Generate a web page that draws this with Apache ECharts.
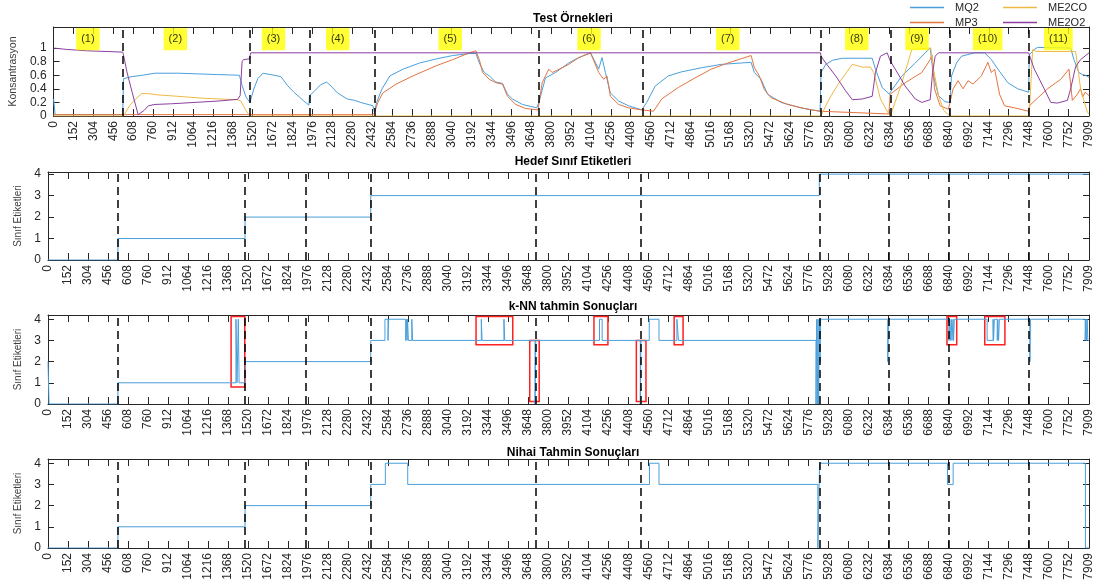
<!DOCTYPE html>
<html><head><meta charset="utf-8">
<script src="https://cdn.jsdelivr.net/npm/echarts@6/dist/echarts.min.js"></script>
<style>html,body{margin:0;padding:0;background:#fff}#c{width:1099px;height:586px}</style>
</head><body><div id="c"></div>
<script>
// ---------- data ----------
const xTicks = [0,152,304,456,608,760,912,1064,1216,1368,1520,1672,1824,1976,2128,2280,2432,2584,2736,2888,3040,3192,3344,3496,3648,3800,3952,4104,4256,4408,4560,4712,4864,5016,5168,5320,5472,5624,5776,5928,6080,6232,6384,6536,6688,6840,6992,7144,7296,7448,7600,7752,7909];
const concTicks = [0,0.2,0.4,0.6,0.8,1];
const classTicks = [0,1,2,3,4];
const segBounds = [531,1497,1955,2450,3703,4500,5860,6391,6846,7451];
const segNames = ['(1)','(2)','(3)','(4)','(5)','(6)','(7)','(8)','(9)','(10)','(11)'];
const segNameX = [262,930,1680,2170,3030,4090,5150,6135,6595,7135,7675];
const segNameY = 1.13;

const MQ2 = [[0,0.25],[12,0.02],[528,0.02],[534,0.55],[600,0.58],[680,0.6],[775,0.63],[950,0.63],[1100,0.62],[1250,0.61],[1419,0.6],[1440,0.45],[1470,0.28],[1500,0.2],[1530,0.4],[1560,0.55],[1600,0.63],[1685,0.6],[1736,0.58],[1786,0.45],[1836,0.35],[1912,0.22],[1950,0.16],[1955,0.3],[1990,0.36],[2040,0.46],[2085,0.5],[2120,0.44],[2168,0.34],[2244,0.25],[2300,0.23],[2345,0.2],[2440,0.15],[2450,0.06],[2468,0.2],[2506,0.39],[2569,0.59],[2670,0.69],[2796,0.78],[2923,0.84],[3049,0.89],[3176,0.92],[3226,0.92],[3252,0.78],[3290,0.64],[3328,0.59],[3378,0.5],[3429,0.48],[3467,0.32],[3505,0.25],[3581,0.17],[3690,0.12],[3700,0.1],[3707,0.2],[3757,0.56],[3834,0.64],[3935,0.78],[3990,0.84],[4050,0.89],[4101,0.93],[4164,0.69],[4189,0.86],[4215,0.64],[4253,0.34],[4316,0.22],[4392,0.15],[4493,0.09],[4531,0.2],[4595,0.44],[4696,0.59],[4797,0.65],[4949,0.71],[5100,0.76],[5252,0.78],[5328,0.79],[5353,0.64],[5404,0.54],[5454,0.32],[5556,0.2],[5708,0.12],[5855,0.07],[5862,0.64],[5898,0.76],[5949,0.82],[6025,0.85],[6253,0.85],[6278,0.69],[6329,0.42],[6385,0.32],[6391,0.35],[6480,0.59],[6582,0.78],[6658,0.93],[6696,1.0],[6721,0.59],[6759,0.3],[6810,0.21],[6846,0.2],[6859,0.59],[6897,0.78],[6935,0.88],[7036,0.93],[7112,0.93],[7163,0.83],[7213,0.69],[7289,0.49],[7365,0.4],[7448,0.35],[7453,0.9],[7491,0.98],[7516,1.01],[7769,1.0],[7794,0.83],[7832,0.64],[7858,0.61],[7880,0.6],[7909,0.57]];
const MP3 = [[0,0.02],[2440,0.02],[2452,0.05],[2477,0.2],[2515,0.34],[2617,0.47],[2745,0.59],[2923,0.74],[3049,0.83],[3176,0.93],[3226,0.96],[3252,0.83],[3277,0.64],[3328,0.54],[3378,0.49],[3429,0.47],[3467,0.29],[3530,0.17],[3606,0.11],[3700,0.09],[3732,0.49],[3783,0.69],[3808,0.64],[3886,0.71],[3935,0.76],[4012,0.86],[4101,0.93],[4164,0.64],[4202,0.54],[4227,0.59],[4253,0.29],[4316,0.17],[4392,0.12],[4493,0.09],[4506,0.07],[4582,0.07],[4645,0.25],[4772,0.42],[4899,0.56],[5025,0.69],[5151,0.78],[5328,0.89],[5353,0.71],[5391,0.59],[5404,0.61],[5429,0.39],[5480,0.27],[5606,0.17],[5758,0.1],[5855,0.07],[5862,0.05],[6380,0.03],[6391,0.32],[6505,0.49],[6632,0.64],[6696,0.83],[6709,0.9],[6729,0.4],[6772,0.15],[6835,0.1],[6846,0.1],[6871,0.4],[6909,0.52],[6947,0.4],[6985,0.52],[7023,0.47],[7087,0.59],[7137,0.79],[7163,0.64],[7188,0.69],[7226,0.32],[7264,0.15],[7340,0.12],[7448,0.07],[7453,0.15],[7592,0.4],[7693,0.54],[7756,0.69],[7782,0.23],[7820,0.32],[7845,0.4],[7860,0.28],[7880,0.35],[7909,0.3]];
const ME2CO = [[0,0],[534,0],[580,0.15],[626,0.25],[673,0.33],[720,0.33],[800,0.31],[950,0.29],[1152,0.26],[1406,0.24],[1430,0.22],[1470,0.08],[1500,0],[5860,0],[5924,0.25],[6000,0.49],[6101,0.76],[6177,0.72],[6240,0.72],[6265,0.64],[6316,0.25],[6379,0.03],[6391,0],[6480,0.49],[6556,0.98],[6700,1.0],[6720,0.7],[6760,0.3],[6800,0.08],[6846,0],[7448,0],[7453,0.05],[7479,0.98],[7504,0.95],[7807,0.95],[7845,0.4],[7896,0.06],[7909,0.03]];
const ME2O2 = [[0,1.0],[100,0.98],[250,0.96],[400,0.95],[528,0.94],[534,0.9],[560,0.65],[600,0.35],[646,0.02],[660,0],[690,0.08],[724,0.15],[774,0.17],[900,0.18],[1080,0.2],[1257,0.22],[1406,0.245],[1425,0.3],[1440,0.8],[1450,0.83],[1495,0.84],[1506,0.93],[5858,0.93],[5862,0.88],[5898,0.78],[5974,0.59],[6050,0.37],[6101,0.24],[6177,0.25],[6253,0.29],[6278,0.64],[6316,0.88],[6367,0.93],[6391,0.81],[6429,0.69],[6505,0.44],[6582,0.25],[6632,0.2],[6696,0.24],[6714,0.64],[6734,0.88],[6759,0.93],[7448,0.93],[7453,0.9],[7491,0.69],[7567,0.4],[7617,0.2],[7668,0.19],[7744,0.23],[7769,0.4],[7807,0.73],[7845,0.83],[7909,0.93]];

const hedef = [[0,0],[531,1],[1497,2],[2452,3],[5860,4],[7909,4]];
const knn = [[0,2],[8,0],[531,1],[1428,4],[1436,1],[1446,4],[1452,1],[1500,2],[2452,3],[2560,4],[2583,3],[2588,4],[2718,3],[2722,4],[2728,3],[2732,4],[2738,3],[2764,4],[2770,3],[3292,4],[3298,3],[3464,4],[3470,3],[3700,0],[3706,3],[4190,4],[4210,3],[4500,0],[4505,3],[4568,4],[4642,3],[4778,4],[4790,3],[5835,0],[5840,4],[5845,0],[5850,4],[5855,0],[5860,4],[5866,2],[5870,4],[6380,2],[6386,4],[6845,3],[6850,4],[6856,3],[6862,4],[6868,3],[6876,4],[6880,3],[6886,4],[7135,3],[7180,4],[7184,3],[7190,4],[7212,3],[7216,4],[7222,3],[7228,4],[7460,2],[7464,4],[7880,3],[7885,4],[7890,3],[7895,4],[7900,3],[7909,3]];
const nihai = [[0,0],[531,1],[1497,2],[2452,3],[2563,4],[2733,3],[4570,4],[4642,3],[5849,0],[5862,4],[6834,3],[6877,4],[7882,0],[7909,0]];
// red boxes: [x1, y1, x2, y2]
const knnBoxes = [[1391,0.8,1495,4.13],[3252,2.8,3531,4.13],[3660,0.12,3732,3.0],[4148,2.8,4254,4.13],[4470,0.12,4543,3.0],[4757,2.8,4825,4.13],[6830,2.8,6904,4.13],[7117,2.8,7270,4.13]];

// ---------- chart ----------
const FONT = 'Liberation Sans, Arial, Helvetica, sans-serif';
const AX = '#262626';
const C = {mq2:'#4A9FDB', mp3:'#E4733F', me2co:'#EEB844', me2o2:'#8B3FA0', cls:'#4A9FDB'};
const grids = [
  {left:48, right:10, top:27, height:89},
  {left:48, right:10, top:172, height:88},
  {left:48, right:10, top:315, height:89},
  {left:48, right:10, top:459, height:89}
];
const yMax = [1.31, 4.1, 4.2, 4.2];
const yTickSets = [concTicks, classTicks, classTicks, classTicks];
const yNames = ['Konsantrasyon','Sınıf Etiketleri','Sınıf Etiketleri','Sınıf Etiketleri'];
const yNameGap = [34, 25, 25, 25];
const titles = ['Test Örnekleri','Hedef Sınıf Etiketleri','k-NN tahmin Sonuçları','Nihai Tahmin Sonuçları'];
const titleTop = [8, 151, 296, 442];

const xAxes = [], yAxes = [];
grids.forEach((g, i) => {
  xAxes.push({type:'value', gridIndex:i, min:0, max:7909, position:'bottom',
    axisLine:{show:true, onZero:false, lineStyle:{color:AX, width:1}},
    axisTick:{show:true, inside:true, length:7, customValues:xTicks, lineStyle:{color:AX}},
    axisLabel:{show:true, rotate:90, margin:5, fontSize:12, color:AX, fontFamily:FONT, customValues:xTicks, hideOverlap:false, formatter:v=>String(v)},
    splitLine:{show:false}});
  xAxes.push({type:'value', gridIndex:i, min:0, max:7909, position:'top',
    axisLine:{show:true, onZero:false, lineStyle:{color:AX, width:1}},
    axisTick:{show:true, inside:true, length:7, customValues:xTicks, lineStyle:{color:AX}},
    axisLabel:{show:false}, splitLine:{show:false}});
  yAxes.push({type:'value', gridIndex:i, min:0, max:yMax[i], position:'left',
    name:yNames[i], nameLocation:'middle', nameGap:yNameGap[i], nameRotate:90,
    nameTextStyle:{fontSize:i===0?10.5:10, color:'#404040', fontFamily:FONT},
    axisLine:{show:true, onZero:false, lineStyle:{color:AX, width:1}},
    axisTick:{show:true, inside:true, length:6, customValues:yTickSets[i], lineStyle:{color:AX}},
    axisLabel:{show:true, fontSize:12, color:AX, fontFamily:FONT, margin:7, customValues:yTickSets[i], formatter:v=>String(v)},
    splitLine:{show:false}});
  yAxes.push({type:'value', gridIndex:i, min:0, max:yMax[i], position:'right',
    axisLine:{show:true, onZero:false, lineStyle:{color:AX, width:1}},
    axisTick:{show:true, inside:true, length:6, customValues:yTickSets[i], lineStyle:{color:AX}},
    axisLabel:{show:false}, splitLine:{show:false}});
});

const dashed = {
  silent:true, symbol:['none','none'], label:{show:false}, emphasis:{disabled:true},
  lineStyle:{color:'#000', type:[8,5], width:1.5}, animation:false,
  data: segBounds.map(x => ({xAxis:x}))
};

function lineSeries(name, data, color, gi, extra) {
  return Object.assign({
    name, type:'line', data, xAxisIndex:gi*2, yAxisIndex:gi*2,
    symbol:'none', showSymbol:false, animation:false,
    lineStyle:{color, width:1}, itemStyle:{color}, emphasis:{disabled:true}
  }, extra || {});
}

const series = [
  lineSeries('MQ2', MQ2, C.mq2, 0, {markLine:dashed, z:3}),
  lineSeries('MP3', MP3, C.mp3, 0),
  lineSeries('ME2CO', ME2CO, C.me2co, 0),
  lineSeries('ME2O2', ME2O2, C.me2o2, 0),
  {name:'segLabels', type:'scatter', xAxisIndex:0, yAxisIndex:0, symbol:'rect', symbolSize:1,
   itemStyle:{color:'rgba(0,0,0,0)'},
   data: segNames.map((n,i)=>[segNameX[i], segNameY, n]), z:10, animation:false, silent:true,
   label:{show:true, position:'inside', formatter:p=>p.value[2], backgroundColor:'#FFFF00',
     padding:[6,5,5,5], color:'#000', fontSize:11, fontFamily:FONT}},
  lineSeries('Hedef', hedef, C.cls, 1, {step:'end', markLine:dashed}),
  lineSeries('kNN', knn, C.cls, 2, {step:'end', markLine:dashed,
    markArea:{silent:true, emphasis:{disabled:true}, label:{show:false},
      itemStyle:{color:'rgba(0,0,0,0)', borderColor:'#FF2020', borderWidth:1.5},
      data: knnBoxes.map(b => [{coord:[b[0], b[3]]}, {coord:[b[2], b[1]]}])}}),
  lineSeries('Nihai', nihai, C.cls, 3, {step:'end', markLine:dashed})
];

const legendCommon = {orient:'vertical', top:-3, icon:'rect', itemWidth:34, itemHeight:1.5, itemGap:4,
  textStyle:{fontSize:11, color:AX, fontFamily:FONT, padding:[0,0,0,6]}};
const option = {
  backgroundColor:'#fff',
  animation:false,
  textStyle:{fontFamily:FONT},
  title: titles.map((t,i)=>({text:t, left:568, top:titleTop[i], textAlign:'center',
    textStyle:{fontSize:12, fontWeight:'bold', color:'#000', fontFamily:FONT}})),
  legend:[
    Object.assign({data:['MQ2','MP3'], left:905}, legendCommon),
    Object.assign({data:['ME2CO','ME2O2'], left:998}, legendCommon)
  ],
  grid: grids,
  xAxis: xAxes,
  yAxis: yAxes,
  series
};
const chart = echarts.init(document.getElementById('c'), null, {renderer:'canvas'});
chart.setOption(option);
</script>
</body></html>
